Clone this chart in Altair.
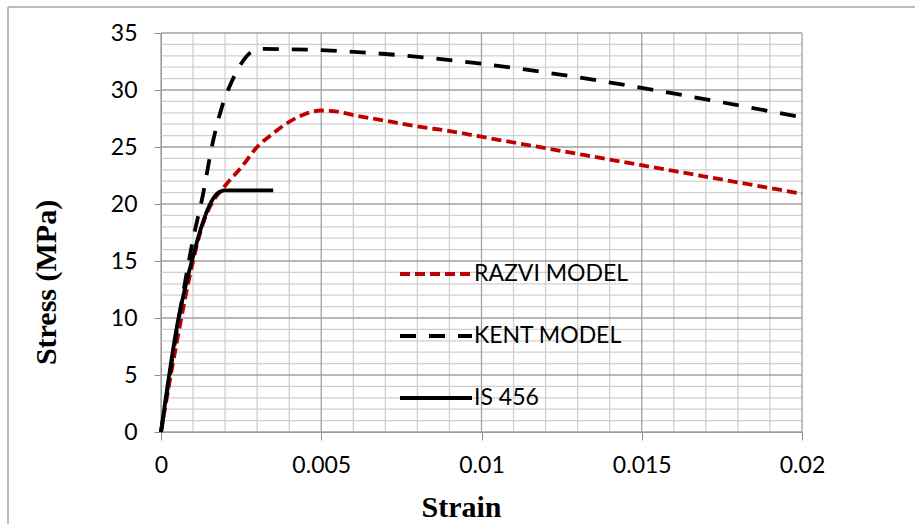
import altair as alt
import pandas as pd

# ---- data ----
razvi_strain = [0, 0.0005, 0.001, 0.0013, 0.0015, 0.002, 0.0025, 0.003, 0.0035, 0.004, 0.0045,
                0.005, 0.0055, 0.006, 0.007, 0.008, 0.009, 0.010, 0.012, 0.014, 0.016, 0.018, 0.020]
razvi_stress = [0, 8.0, 15.0, 18.2, 19.6, 21.6, 23.2, 25.0, 26.2, 27.2, 27.9,
                28.2, 28.1, 27.8, 27.3, 26.8, 26.4, 25.9, 24.9, 23.9, 22.9, 21.9, 20.9]

kent_strain = [0, 0.0005, 0.001, 0.0013, 0.0016, 0.0019, 0.0022, 0.0025, 0.0028, 0.0031, 0.020]
kent_stress = [0, 9.0, 16.9, 20.7, 25.2, 28.5, 30.7, 32.3, 33.3, 33.6, 27.6]

is_strain = [0, 0.00025, 0.0005, 0.00075, 0.001, 0.00125, 0.0015, 0.00175, 0.002, 0.0035]
is_stress = [0, 4.9, 9.3, 12.6, 15.4, 17.9, 19.8, 20.9, 21.2, 21.2]

series_names = ["RAZVI MODEL", "KENT MODEL", "IS 456"]
series_colors = ["#C00000", "#000000", "#000000"]
series_dashes = [[10, 5], [16, 13], [1, 0]]

x_major = [0, 0.005, 0.01, 0.015, 0.02]
x_minor = [0.001, 0.002, 0.003, 0.004, 0.006, 0.007, 0.008, 0.009, 0.011, 0.012, 0.013,
           0.014, 0.016, 0.017, 0.018, 0.019]
y_major = [0, 5, 10, 15, 20, 25, 30, 35]
y_minor = [1, 2, 3, 4, 6, 7, 8, 9, 11, 12, 13, 14, 16, 17, 18, 19, 21, 22, 23, 24,
           26, 27, 28, 29, 31, 32, 33, 34]

rows = []
for name, xs, ys in [("RAZVI MODEL", razvi_strain, razvi_stress),
                     ("KENT MODEL", kent_strain, kent_stress),
                     ("IS 456", is_strain, is_stress)]:
    for i, (a, b) in enumerate(zip(xs, ys)):
        rows.append({"series": name, "strain": a, "stress": b, "order": i})
df = pd.DataFrame(rows)

xscale = alt.Scale(domain=[0, 0.02], nice=False, zero=False)
yscale = alt.Scale(domain=[0, 35], nice=False)

SANS = "Lato"
SERIF = "Liberation Serif"

x_axis = alt.Axis(values=x_major, format="~g", grid=False, domainColor="#8c8c8c",
                  tickColor="#8c8c8c", tickSize=8, labelFont=SANS, labelFontSize=23,
                  labelColor="#000000", labelPadding=14, title="Strain", titleFont=SERIF,
                  titleFontSize=30, titleFontWeight="bold", titleColor="#000000",
                  titleX=300, titleY=84, titleBaseline="alphabetic", titleAnchor="middle",
                  labelFlush=False)
y_axis = alt.Axis(values=y_major, grid=False, domainColor="#8c8c8c", tickColor="#8c8c8c",
                  tickSize=7, labelFont=SANS, labelFontSize=23, labelColor="#000000",
                  labelPadding=17, title="Stress (MPa)", titleFont=SERIF, titleFontSize=30,
                  titleFontWeight="bold", titleColor="#000000", titleAngle=270,
                  titleX=-115, titleY=249, titleBaseline="middle", titleAnchor="middle")

xminor = alt.Chart(pd.DataFrame({"v": x_minor})).mark_rule(
    color="#d0d0d0", strokeWidth=1.3).encode(x=alt.X("v:Q", scale=xscale, axis=x_axis))
yminor = alt.Chart(pd.DataFrame({"v": y_minor})).mark_rule(
    color="#d0d0d0", strokeWidth=1.3).encode(y=alt.Y("v:Q", scale=yscale, axis=y_axis))
xmajor = alt.Chart(pd.DataFrame({"v": x_major})).mark_rule(
    color="#a0a0a0", strokeWidth=1.3).encode(x=alt.X("v:Q", scale=xscale, axis=x_axis))
ymajor = alt.Chart(pd.DataFrame({"v": y_major})).mark_rule(
    color="#a0a0a0", strokeWidth=1.3).encode(y=alt.Y("v:Q", scale=yscale, axis=y_axis))

lines = alt.Chart(df).mark_line(strokeWidth=3.8, interpolate="monotone").encode(
    x=alt.X("strain:Q", scale=xscale, axis=x_axis),
    y=alt.Y("stress:Q", scale=yscale, axis=y_axis),
    color=alt.Color("series:N",
                    scale=alt.Scale(domain=series_names, range=series_colors),
                    legend=alt.Legend(orient="none", legendX=237, legendY=203, title=None,
                                      symbolType="stroke", symbolSize=5184,
                                      symbolStrokeWidth=4, rowPadding=12, padding=0,
                                      labelFont=SANS, labelFontSize=23, labelColor="#000000",
                                      labelOffset=0, labelLimit=300)),
    strokeDash=alt.StrokeDash("series:N",
                              scale=alt.Scale(domain=series_names, range=series_dashes),
                              legend=None),
    order="order:Q",
)

one = alt.Data(values=[{}])
frame_v = alt.Chart(one).mark_rule(color="#a6a6a6", strokeWidth=1.5).encode(
    x=alt.value(-153), y=alt.value(-26), y2=alt.value(520))
frame_h = alt.Chart(one).mark_rule(color="#a6a6a6", strokeWidth=1.5).encode(
    x=alt.value(-153), x2=alt.value(800), y=alt.value(-26))

chart = alt.layer(frame_v, frame_h, xminor, yminor, xmajor, ymajor, lines).properties(
    width=641, height=399,
    padding={"left": 161, "top": 33, "right": 113, "bottom": 92},
    autosize=alt.AutoSizeParams(type="none"),
    background="white",
).configure_view(stroke=None)

chart.save("out.html", embed_options={"renderer": "svg", "actions": False})
